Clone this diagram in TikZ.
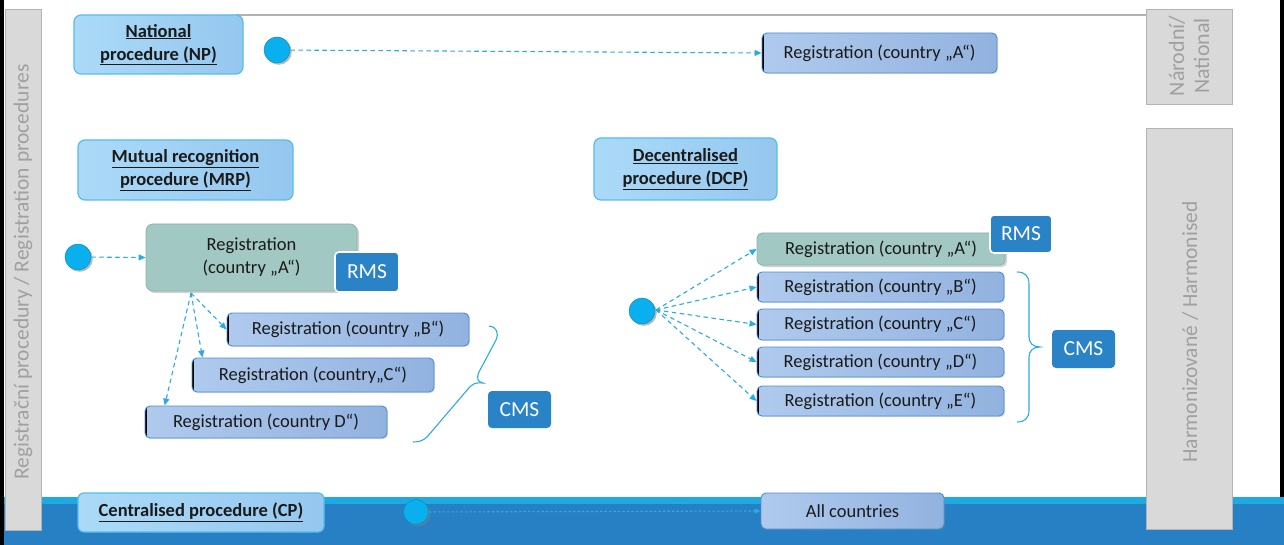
\documentclass[tikz,border=0pt]{standalone}
\usepackage{fontspec}
\setmainfont{Carlito}
\usetikzlibrary{arrows.meta,shadows,calc}

\definecolor{procL}{HTML}{ABDAF8}
\definecolor{procR}{HTML}{95C7EF}
\definecolor{procB}{HTML}{55BDEB}
\definecolor{regL}{HTML}{AFCAED}
\definecolor{regR}{HTML}{92B2DF}
\definecolor{regB}{HTML}{4A8FD6}
\definecolor{tealbox}{HTML}{A1C8C2}
\definecolor{tealline}{HTML}{8DB3AD}
\definecolor{msblue}{HTML}{2A83C6}
\definecolor{dotc}{HTML}{0AAFEE}
\definecolor{arr}{HTML}{2AACE2}
\definecolor{barfill}{HTML}{D9D9D9}
\definecolor{barline}{HTML}{B3B3B3}
\definecolor{bartext}{HTML}{A0A0A0}
\definecolor{bandL}{HTML}{1FA9E1}
\definecolor{bandD}{HTML}{2880C4}
\definecolor{txt}{HTML}{1A1A1A}

\tikzset{
  procbox/.style={rounded corners=7pt, left color=procL, right color=procR, draw=procB, line width=1.2pt,
    align=center, text=txt, inner sep=0pt, font=\fontsize{18.5pt}{23pt}\selectfont\bfseries},
  regbox/.style={rounded corners=5pt, left color=regL, right color=regR, draw=regB, line width=0.9pt,
    text=txt, inner sep=0pt, font=\fontsize{18.5pt}{22pt}\selectfont,
    drop shadow={opacity=0.25, shadow xshift=1.2pt, shadow yshift=-1.2pt},
    path picture={\draw[black, line width=3pt] (path picture bounding box.north west) -- (path picture bounding box.south west);}},
  tbox/.style={rounded corners=7pt, fill=tealbox, draw=tealline, line width=0.8pt, align=center,
    text=txt, inner sep=0pt, font=\fontsize{18.5pt}{23pt}\selectfont,
    drop shadow={opacity=0.35, shadow xshift=2pt, shadow yshift=-2pt}},
  msbox/.style={rounded corners=4pt, fill=msblue, draw=white, line width=1.6pt, text=white,
    inner sep=0pt, font=\fontsize{21.5pt}{24pt}\selectfont},
  dotnode/.style={circle, minimum size=26pt, inner sep=0pt, fill=dotc, draw=dotc!80!black, line width=0.5pt,
    drop shadow={opacity=0.55, shadow xshift=1.8pt, shadow yshift=-1.8pt}},
  darr/.style={draw=arr, line width=1.1pt, dash pattern=on 4.5pt off 3.5pt,
    -{Triangle[length=7pt,width=6pt]}},
  brace/.style={draw=arr, line width=1.1pt},
  graybar/.style={fill=barfill, draw=barline, line width=1pt},
  bartxt/.style={text=bartext, font=\fontsize{21.5pt}{25pt}\selectfont, rotate=90, align=center, inner sep=0pt}
}

\begin{document}
\begin{tikzpicture}[x=1pt,y=-1pt]
\useasboundingbox (0,0) rectangle (1284,545);
\fill[white] (0,0) rectangle (1284,545);

% bottom band
\fill[bandD] (0,503) rectangle (1284,545);
\fill[bandL] (0,497) rectangle (1284,504);

% frame lines
\fill[black] (0,0) rectangle (3.5,545);
\fill[black] (1280,0) rectangle (1284,497);

% top thin line
\draw[barline, line width=1.2pt] (236,15) -- (1146,15);

% gray side bars
\draw[graybar] (5,10) rectangle (41,530);
\node[bartxt] (lefttxt) at (23,272) {Registrační procedury / Registration procedures};
\draw[graybar] (1146,10) rectangle (1232,105);
\node[bartxt, font=\fontsize{22pt}{25pt}\selectfont] (nattxt) at (1189,56) {Národní/\\National};
\draw[graybar] (1146,129) rectangle (1232,529);
\node[bartxt] (hartxt) at (1190,332) {Harmonizované / Harmonised};

% National procedure
\node[procbox, minimum width=169pt, minimum height=59pt] (np) at (158.5,44.5) {\underline{National}\\\underline{procedure (NP)}};
\node[dotnode] (npdot) at (277,50) {};
\node[regbox, minimum width=235pt, minimum height=40pt] (npreg) at (879.5,53) {Registration (country „A“)};
\draw[darr] (npdot) -- (npreg.west);

% MRP
\node[procbox, minimum width=215pt, minimum height=60pt] (mrp) at (185.5,170) {\underline{Mutual recognition}\\\underline{procedure (MRP)}};
\node[dotnode] (mrpdot) at (78,257) {};
\node[tbox, minimum width=211pt, minimum height=67pt] (mra) at (251.5,257.5) {Registration\\(country „A“)};
\node[msbox, minimum width=64pt, minimum height=40pt] (rms1) at (367,272) {RMS};
\node[regbox, minimum width=242pt, minimum height=33pt] (mrb) at (348,329.5) {Registration (country „B“)};
\node[regbox, minimum width=242pt, minimum height=34pt] (mrc) at (313,375) {Registration (country„C“)};
\node[regbox, minimum width=242pt, minimum height=32pt] (mrd) at (266,422) {Registration (country D“)};
\node[msbox, draw=none, minimum width=63pt, minimum height=37pt] (cms1) at (519.5,409.5) {CMS};
\draw[darr] (mrpdot) -- (mra.west);
\coordinate (mrsrc) at (191,293);
\draw[darr] (mrsrc) -- (mrb.west);
\draw[darr] (mrsrc) -- ($(mrc.north west)!0.045!(mrc.north east)$);
\draw[darr] (mrsrc) -- ($(mrd.north west)!0.083!(mrd.north east)$);
\draw[brace] (489,326) .. controls (497,327) and (499,333) .. (496,340) -- (479,372)
  .. controls (476,379) and (478,382) .. (483,383)
  .. controls (476,382) and (472,384) .. (468,389) -- (427,437)
  .. controls (423,441) and (418,442) .. (413,442);

% DCP
\node[procbox, minimum width=183pt, minimum height=62pt] (dcp) at (685.5,169) {\underline{Decentralised}\\\underline{procedure (DCP)}};
\node[dotnode] (dcpdot) at (642,311) {};
\node[tbox, minimum width=248pt, minimum height=32pt, rounded corners=5pt] (dca) at (881,249) {Registration (country „A“)};
\node[msbox, minimum width=62pt, minimum height=38pt] (rms2) at (1021,234) {RMS};
\node[regbox, minimum width=247pt, minimum height=30pt] (dcb) at (880.5,287) {Registration (country „B“)};
\node[regbox, minimum width=247pt, minimum height=31pt] (dcc) at (880.5,324.5) {Registration (country „C“)};
\node[regbox, minimum width=247pt, minimum height=30pt] (dcd) at (880.5,362) {Registration (country „D“)};
\node[regbox, minimum width=247pt, minimum height=30pt] (dce) at (880.5,401) {Registration (country „E“)};
\node[msbox, draw=none, minimum width=63pt, minimum height=38pt] (cms2) at (1083.5,349) {CMS};
\coordinate (dcsrc) at (656,310);
\foreach \t in {dca,dcb,dcc,dcd,dce} \draw[darr] (dcsrc) -- (\t.west);
\draw[brace] (1017,272) .. controls (1025,272) and (1029,276) .. (1029,284) -- (1029,337)
  .. controls (1029,343) and (1033,347) .. (1040,347)
  .. controls (1033,347) and (1029,351) .. (1029,357) -- (1029,410)
  .. controls (1029,418) and (1025,422) .. (1017,422);

% Centralised
\node[procbox, minimum width=246pt, minimum height=39pt, rounded corners=6pt] (cp) at (201,512.5) {\underline{Centralised procedure (CP)}};
\node[dotnode, minimum size=25pt] (cpdot) at (416,512) {};
\node[regbox, path picture={}, minimum width=183pt, minimum height=36pt] (allc) at (852.5,511) {All countries};
\draw[darr, dash pattern=on 2.5pt off 2pt, -{Triangle[length=6pt,width=5pt]}] (cpdot) -- (allc.west);
\end{tikzpicture}
\end{document}
